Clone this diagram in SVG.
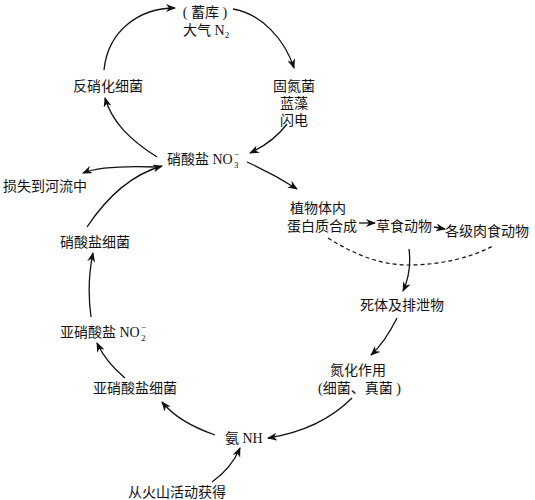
<svg xmlns="http://www.w3.org/2000/svg" width="535" height="500" viewBox="0 0 535 500">
<style>
text{font-family:"Liberation Serif","Noto Sans CJK SC",serif;font-size:14px;fill:#111}
.s{font-size:9px}
.c{fill:none;stroke:#111;stroke-width:1.3}
.d{fill:none;stroke:#111;stroke-width:1.2;stroke-dasharray:4 3}
</style>
<defs>
<marker id="a" viewBox="0 0 10 8" refX="9" refY="4" markerWidth="10" markerHeight="8" markerUnits="userSpaceOnUse" orient="auto">
<path d="M0,0 L10,4 L0,8 L3,4 z" fill="#111"/>
</marker>
</defs>
<rect width="535" height="500" fill="#fff"/>
<g id="connectors">
<path class="c" marker-end="url(#a)" d="M104,70 C108,30 140,8 175,8"/>
<path class="c" marker-end="url(#a)" d="M233,9 C262,14 285,40 294,68"/>
<path class="c" marker-end="url(#a)" d="M287,124 C278,136 265,146 250,153"/>
<path class="c" marker-end="url(#a)" d="M157,157 C130,140 112,122 105,98"/>
<path class="c" marker-end="url(#a)" d="M157,167 C130,166 100,166 83,173"/>
<path class="c" marker-end="url(#a)" d="M87,227 C105,200 130,175 162,166"/>
<path class="c" marker-end="url(#a)" d="M91,317 C88,295 89,272 93,253"/>
<path class="c" marker-end="url(#a)" d="M125,378 C113,368 103,356 97,343"/>
<path class="c" marker-end="url(#a)" d="M215,435 C195,428 175,418 162,402"/>
<path class="c" marker-end="url(#a)" d="M352,398 C330,420 300,433 268,438"/>
<path class="c" marker-end="url(#a)" d="M212,482 C225,473 234,462 240,448"/>
<path class="c" marker-end="url(#a)" d="M397,318 C390,332 382,345 371,355"/>
<path class="c" marker-end="url(#a)" d="M247,162 C265,170 283,180 297,189"/>
<path class="c" marker-end="url(#a)" d="M409,249 C411,265 409,278 403,291"/>
<path class="c" marker-end="url(#a)" d="M359,223 L375,223"/>
<path class="c" marker-end="url(#a)" d="M434,227 L445,229"/>
<path class="d" d="M328,238 C360,258 385,265 408,265 C440,265 470,258 493,246"/>
</g>
<g id="n-n2"><text x="205" y="17" text-anchor="middle">( 蓄库 )</text><text x="183" y="35">大气 N<tspan class="s" dy="3">2</tspan></text></g>
<g id="n-denit"><text x="73" y="91">反硝化细菌</text></g>
<g id="n-fix"><text x="273" y="91">固氮菌</text><text x="280" y="108">蓝藻</text><text x="280" y="125">闪电</text></g>
<g id="n-no3"><text x="167" y="164">硝酸盐 NO</text><text class="s" x="234" y="168">3</text><text class="s" x="234" y="157">−</text></g>
<g id="n-loss"><text x="3" y="191">损失到河流中</text></g>
<g id="n-plant"><text x="290" y="213">植物体内</text><text x="287" y="231">蛋白质合成</text></g>
<g id="n-herb"><text x="376" y="231">草食动物</text></g>
<g id="n-carn"><text x="445" y="236">各级肉食动物</text></g>
<g id="n-dead"><text x="360" y="310">死体及排泄物</text></g>
<g id="n-ammon"><text x="330" y="375">氮化作用</text><text x="318" y="393">(细菌、真菌 )</text></g>
<g id="n-nh"><text x="225" y="443">氨 NH</text></g>
<g id="n-volc"><text x="128" y="497">从火山活动获得</text></g>
<g id="n-nitrosb"><text x="93" y="393">亚硝酸盐细菌</text></g>
<g id="n-no2"><text x="60" y="337">亚硝酸盐 NO</text><text class="s" x="141" y="341">2</text><text class="s" x="141" y="330">−</text></g>
<g id="n-nitrb"><text x="60" y="247">硝酸盐细菌</text></g>
</svg>
